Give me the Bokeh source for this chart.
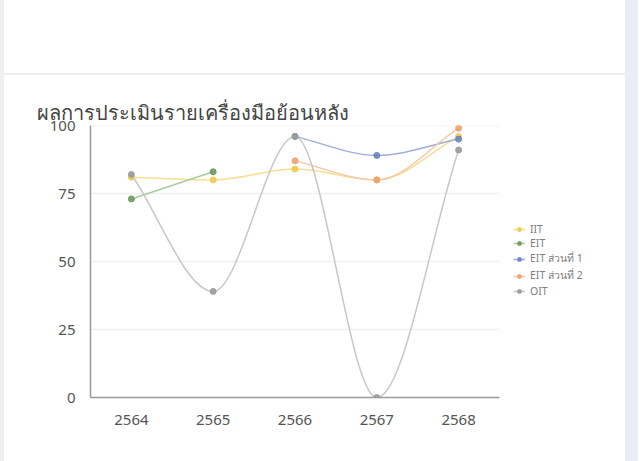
from bokeh.plotting import figure
from bokeh.models import Range1d, FixedTicker, Legend, LegendItem, Title
from bokeh.embed import file_html
from bokeh.resources import INLINE
import numpy as np

title_text = "ผลการประเมินรายเครื่องมือย้อนหลัง"
years = [2564, 2565, 2566, 2567, 2568]
y_ticks = [0, 25, 50, 75, 100]

series_names = ["IIT", "EIT", "EIT ส่วนที่ 1", "EIT ส่วนที่ 2", "OIT"]
iit = [81, 80, 84, 80, 96]
eit = [73, 83, None, None, None]
eit1 = [None, None, 96, 89, 95]
eit2 = [None, None, 87, 80, 99]
oit = [82, 39, 96, 0, 91]

line_colors = ["#f7dc8a", "#a8c898", "#9aaad8", "#f5c4a0", "#c4c4c4"]
mark_colors = ["#f2c94c", "#6f9a5c", "#6a84c4", "#f0a070", "#9a9a9a"]

card_css = {
    "background": ("linear-gradient(to right, #efefef 0px, #efefef 4px, transparent 4px, "
                   "transparent 625px, #e9edf6 625px, #e9edf6 638px), "
                   "linear-gradient(to bottom, transparent 73px, #eeeeee 73px, "
                   "#eeeeee 75px, transparent 75px), white"),
}

# plot area: the category axis covers 409 px of a 530 px frame,
# the rest of the frame holds the legend
x_lo, x_hi = years[0] - 0.5, years[-1] + 0.5
axis_px, frame_px = 409, 530
x_end = x_lo + (x_hi - x_lo) * frame_px / axis_px

W, H = 638, 461
p = figure(width=W, height=H, output_backend="svg", toolbar_location=None,
           x_range=Range1d(x_lo, x_end), y_range=Range1d(0, 100),
           min_border_left=90, min_border_right=W - 90 - frame_px,
           min_border_top=125, min_border_bottom=64, styles=card_css)
p.outline_line_color = None
p.background_fill_color = "white"
p.border_fill_alpha = 0

# the built-in title (closest to the frame) is an invisible spacer
p.title.text = " "
p.title.text_font_size = "10px"
p.title.text_alpha = 0
p.title.standoff = 63

# the visible title sits above the spacer, in the card header
main_title = Title(text=title_text, align="left", offset=-54, text_font="Noto Sans",
                   text_font_size="20px", text_font_style="normal",
                   text_color="#444444", standoff=0)
p.add_layout(main_title, "above")

p.xaxis.ticker = FixedTicker(ticks=years)
p.yaxis.ticker = FixedTicker(ticks=y_ticks)
p.xaxis.bounds = (x_lo, x_hi)
for ax in (p.xaxis[0], p.yaxis[0]):
    ax.axis_line_color = "#9a9a9a"
    ax.axis_line_width = 1.5
    ax.major_tick_line_color = None
    ax.minor_tick_line_color = None
    ax.major_label_text_color = "#555555"
    ax.major_label_text_font = "Noto Sans"
    ax.major_label_text_font_size = "15px"
p.xaxis.major_label_standoff = 11
p.yaxis.major_label_standoff = 9
p.xgrid.grid_line_color = None
p.ygrid.grid_line_color = None

# horizontal grid lines only across the category axis
grid_y = y_ticks[1:]
p.segment(x0=[x_lo] * len(grid_y), y0=grid_y, x1=[x_hi] * len(grid_y), y1=grid_y,
          line_color="#f0f0f0", line_width=1.5, level="underlay")


def monotone_segments(xs, ys):
    pts = [(x, y) for x, y in zip(xs, ys) if y is not None]
    x = np.array([q[0] for q in pts], dtype=float)
    y = np.array([q[1] for q in pts], dtype=float)
    n = len(x)
    d = np.diff(y) / np.diff(x)
    m = np.zeros(n)
    m[0] = d[0]
    m[-1] = d[-1]
    for k in range(1, n - 1):
        if d[k - 1] * d[k] <= 0:
            m[k] = 0.0
        else:
            m[k] = (d[k - 1] + d[k]) / 2.0
    for k in range(n - 1):
        if d[k] == 0:
            m[k] = 0.0
            m[k + 1] = 0.0
            continue
        a = m[k] / d[k]
        b = m[k + 1] / d[k]
        s = a * a + b * b
        if s > 9:
            t = 3 / np.sqrt(s)
            m[k] = t * a * d[k]
            m[k + 1] = t * b * d[k]
    dx = np.diff(x)
    seg = dict(x0=x[:-1], y0=y[:-1], x1=x[1:], y1=y[1:],
               cx0=x[:-1] + dx / 3, cy0=y[:-1] + m[:-1] * dx / 3,
               cx1=x[1:] - dx / 3, cy1=y[1:] - m[1:] * dx / 3)
    return seg, x, y


items = []
all_series = [iit, eit, eit1, eit2, oit]
for name, data, lc, mc in zip(series_names, all_series, line_colors, mark_colors):
    seg, xs, ys = monotone_segments(years, data)
    r1 = p.bezier(line_color=lc, line_width=1.5, line_alpha=0.95, **seg)
    r2 = p.scatter(xs, ys, size=6, fill_color=mc, line_color=mc, alpha=0.9)
    items.append(LegendItem(label=name, renderers=[r1, r2]))

legend = Legend(items=items, location=(423, 99), label_text_font_size="10.5px",
                label_text_color="#808080", label_text_font="Noto Sans",
                label_text_line_height=0.9,
                glyph_width=12, glyph_height=10, label_height=10, spacing=0,
                padding=0, margin=0, label_standoff=5,
                background_fill_alpha=0, border_line_color=None)
p.add_layout(legend, "center")

open("out.html", "w").write(file_html(p, INLINE))
